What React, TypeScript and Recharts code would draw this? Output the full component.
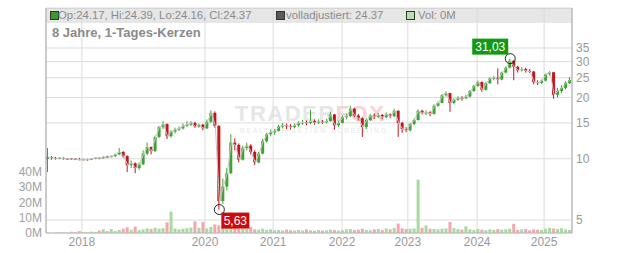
import React from 'react';
import { ComposedChart, Bar, Line, XAxis, YAxis, CartesianGrid, Cell, ReferenceDot } from 'recharts';

// one candle per column of the chart (O/H/L/C in EUR, volume in millions)
const opens = [
  10.0, 10.2, 10.1, 10.0, 10.1, 9.95, 10.05, 10.0, 9.95, 9.9, 9.95, 9.9, 10.0, 10.1, 10.05, 10.25, 10.2, 10.3, 10.5, 10.8,
  10.3, 9.3, 9.5, 9.0, 9.4, 10.6, 11.4, 10.9, 12.8, 14.3, 14.8, 12.9, 13.6, 13.9, 14.1, 14.5, 14.7, 15.0, 14.4, 14.7,
  14.1, 15.2, 16.8, 14.5, 6.2, 7.3, 8.5, 12.0, 11.7, 9.9, 11.3, 11.6, 10.8, 9.6, 10.6, 12.2, 13.2, 13.5, 13.7, 14.4,
  14.6, 14.5, 14.3, 14.6, 15.0, 15.1, 15.0, 15.3, 15.0, 15.2, 15.1, 15.3, 16.5, 14.6, 15.0, 16.0, 16.2, 17.6, 16.3, 15.8,
  14.3, 15.5, 16.3, 16.1, 16.4, 16.0, 16.5, 16.2, 17.2, 15.0, 14.0, 13.8, 14.8, 15.5, 17.2, 16.8, 16.9, 16.6, 18.2, 18.8,
  20.5, 21.0, 18.8, 19.5, 19.9, 19.8, 20.2, 21.5, 22.8, 23.8, 21.8, 23.5, 24.8, 25.0, 24.5, 26.5, 28.0, 30.3, 28.3, 27.2,
  27.6, 27.0, 26.8, 23.8, 23.6, 24.2, 26.0, 26.6, 20.6, 21.5, 22.3, 23.5,
];
const highs = [
  11.3, 10.3, 10.2, 10.2, 10.15, 10.1, 10.1, 10.05, 10.1, 10.0, 10.0, 10.05, 10.15, 10.15, 10.3, 10.35, 10.4, 10.6, 11.3, 10.9,
  10.4, 9.8, 9.6, 9.6, 11.0, 12.0, 11.5, 13.0, 14.5, 15.3, 14.9, 13.8, 14.2, 14.4, 14.9, 15.3, 15.3, 15.2, 14.9, 14.8,
  15.6, 17.3, 17.1, 14.6, 8.0, 9.0, 13.2, 12.6, 11.9, 11.6, 12.0, 11.8, 11.0, 10.8, 12.5, 13.4, 13.9, 14.0, 14.7, 15.0,
  14.9, 14.8, 14.9, 15.3, 15.5, 15.4, 17.4, 15.6, 15.6, 15.5, 15.7, 17.0, 16.6, 15.4, 16.3, 16.6, 18.2, 17.8, 16.6, 16.0,
  15.8, 16.6, 16.7, 16.8, 16.6, 16.9, 16.7, 17.6, 17.3, 15.2, 14.3, 15.0, 15.8, 17.5, 17.4, 17.3, 17.1, 18.5, 19.1, 20.8,
  21.4, 21.1, 19.8, 20.3, 20.3, 20.6, 21.8, 23.1, 24.2, 24.0, 23.8, 25.1, 25.5, 27.8, 26.8, 28.4, 31.03, 30.5, 28.6, 28.2,
  28.0, 27.6, 27.0, 24.3, 24.5, 26.2, 26.9, 26.7, 22.3, 23.0, 24.0, 25.2,
];
const lows = [
  8.6, 9.9, 9.9, 9.95, 9.9, 9.9, 9.9, 9.85, 9.85, 9.8, 9.8, 9.85, 9.95, 9.95, 10.0, 10.1, 10.15, 10.2, 10.4, 10.1,
  8.6, 9.0, 8.5, 8.8, 9.3, 10.4, 10.5, 10.8, 12.6, 14.0, 12.5, 12.7, 13.3, 13.7, 13.9, 14.3, 14.5, 14.2, 14.2, 13.8,
  14.0, 15.0, 14.2, 5.63, 6.0, 7.0, 8.4, 11.0, 9.6, 9.8, 11.0, 10.5, 9.3, 9.5, 10.5, 12.0, 12.9, 13.1, 13.6, 14.1,
  14.0, 13.9, 14.1, 14.4, 14.7, 14.6, 14.8, 14.7, 14.8, 14.8, 14.9, 15.2, 13.9, 14.3, 14.9, 15.6, 16.0, 16.0, 15.4, 12.8,
  14.0, 15.3, 15.7, 15.9, 15.6, 15.8, 15.8, 16.0, 12.8, 13.4, 13.5, 13.6, 14.6, 15.4, 16.5, 16.4, 16.2, 16.5, 18.0, 18.7,
  20.2, 17.0, 18.5, 19.3, 19.3, 19.6, 20.0, 21.3, 22.6, 21.3, 21.6, 23.3, 24.3, 23.2, 24.3, 26.3, 27.8, 24.3, 26.5, 26.8,
  26.5, 26.4, 23.2, 23.0, 23.3, 24.0, 25.6, 19.7, 20.0, 21.0, 21.9, 23.3,
];
const closes = [
  10.2, 10.1, 10.0, 10.1, 10.0, 10.0, 10.0, 9.95, 9.9, 9.95, 9.9, 10.0, 10.1, 10.05, 10.2, 10.2, 10.3, 10.5, 10.8, 10.3,
  9.3, 9.5, 9.0, 9.4, 10.6, 11.4, 10.9, 12.8, 14.3, 14.8, 12.9, 13.6, 13.9, 14.1, 14.5, 14.7, 15.0, 14.4, 14.7, 14.1,
  15.2, 16.8, 14.5, 6.2, 7.3, 8.5, 12.0, 11.7, 9.9, 11.3, 11.6, 10.8, 9.6, 10.6, 12.2, 13.2, 13.5, 13.7, 14.4, 14.6,
  14.5, 14.3, 14.6, 15.0, 15.1, 15.0, 15.3, 15.0, 15.2, 15.1, 15.3, 16.5, 14.6, 15.0, 16.0, 16.2, 17.6, 16.3, 15.8, 14.3,
  15.5, 16.3, 16.1, 16.4, 16.0, 16.5, 16.2, 17.2, 15.0, 14.0, 13.8, 14.8, 15.5, 17.2, 16.8, 16.9, 16.6, 18.2, 18.8, 20.5,
  21.0, 18.8, 19.5, 19.9, 19.8, 20.2, 21.5, 22.8, 23.8, 21.8, 23.5, 24.8, 25.0, 24.5, 26.5, 28.0, 30.3, 28.3, 27.2, 27.6,
  27.0, 26.8, 23.8, 23.6, 24.2, 26.0, 26.6, 20.6, 21.5, 22.3, 23.5, 24.37,
];
const volumes = [
  0.3, 0, 0.2, 0.5, 0.4, 0.3, 0.8, 0.5, 1.2, 0.6, 0.4, 0.9, 0.7, 1.6, 2.5, 1.2, 2.6, 1.4, 2.0, 2.8,
  3.8, 2.2, 4.2, 1.8, 2.4, 3.0, 2.6, 3.4, 2.8, 3.2, 7.0, 14.0, 3.0, 2.4, 2.8, 3.2, 3.6, 7.6, 3.4, 7.2,
  3.0, 4.0, 5.6, 5.0, 4.2, 3.6, 4.4, 3.2, 2.8, 3.0, 2.6, 4.0, 2.4, 2.2, 2.8, 2.0, 2.4, 1.8, 2.0, 1.6,
  2.2, 1.8, 1.6, 2.0, 1.6, 2.4, 1.8, 1.4, 2.0, 1.6, 1.8, 2.2, 2.0, 1.6, 1.8, 2.4, 2.6, 2.0, 2.2, 2.8,
  2.0, 1.8, 2.4, 2.6, 2.0, 3.0, 2.4, 3.2, 6.2, 3.0, 2.6, 2.8, 3.0, 35.0, 3.4, 5.0, 2.8, 2.6, 2.4, 2.8,
  3.0, 7.2, 3.2, 2.6, 2.2, 4.4, 2.4, 2.0, 2.6, 2.2, 1.8, 2.4, 2.0, 2.6, 2.2, 2.4, 2.8, 6.0, 2.0, 2.4,
  2.6, 1.8, 2.4, 2.2, 2.0, 2.8, 3.4, 3.0, 2.6, 3.2, 2.4, 2.0,
];

// candle index where each year starts
const yearTicks = [8.5, 39.4, 56.5, 73.8, 90.3, 107.7, 124.5];
const yearLabels = ['2018', '2020', '2021', '2022', '2023', '2024', '2025'];
const priceTicks = [5, 10, 15, 20, 25, 30, 35];
const volumeTicks = [0, 10, 20, 30, 40];

const highPoint = { i: 116, value: 31.03, label: '31,03' };
const lowPoint = { i: 43, value: 5.63, label: '5,63' };

const GREEN = '#3fa333';
const RED = '#c4161c';
const VOL_UP = '#a8daa0';
const VOL_DOWN = '#f2a6ad';
const FONT = '"Liberation Sans", Arial, sans-serif';

const data = closes.map((c, i) => ({
  i,
  o: opens[i],
  h: highs[i],
  l: lows[i],
  c,
  v: volumes[i],
}));

const Candle = (props: any) => {
  const { x, y, width, height, payload } = props;
  if (x == null || y == null || !payload) return null;
  const { o, h, l, c } = payload;
  const top = Math.min(y, y + height);
  const full = Math.abs(height);
  const span = Math.log(h) - Math.log(l) || 1;
  const py = (v: number) => top + (full * (Math.log(h) - Math.log(v))) / span;
  const color = c >= o ? GREEN : RED;
  const bTop = py(Math.max(o, c));
  const bBot = py(Math.min(o, c));
  const cx = x + width / 2;
  return (
    <g>
      <line x1={cx} x2={cx} y1={top} y2={top + full} stroke={color} strokeWidth={1} />
      <rect x={x} y={bTop} width={width} height={Math.max(1, bBot - bTop)} fill={color} />
    </g>
  );
};

const HighMarker = (props: any) => {
  const { cx, cy } = props;
  return (
    <g>
      <circle cx={cx} cy={cy} r={5} fill="none" stroke="#222" strokeWidth={1} />
      <rect x={cx - 38} y={cy - 20} width={36} height={16} fill="#119a11" />
      <text x={cx - 20} y={cy - 8} textAnchor="middle" fill="#fff" fontSize={12} fontFamily={FONT}>
        {highPoint.label}
      </text>
    </g>
  );
};

const LowMarker = (props: any) => {
  const { cx, cy } = props;
  return (
    <g>
      <circle cx={cx} cy={cy} r={5} fill="none" stroke="#222" strokeWidth={1} />
      <rect x={cx + 2} y={cy + 3} width={28} height={16} fill="#cc0a0a" />
      <text x={cx + 16} y={cy + 15} textAnchor="middle" fill="#fff" fontSize={12} fontFamily={FONT}>
        {lowPoint.label}
      </text>
    </g>
  );
};

const legendText: React.CSSProperties = {
  position: 'absolute',
  top: 9,
  fontSize: 11.3,
  color: '#8a8a8a',
  lineHeight: '13px',
  whiteSpace: 'nowrap',
};

const square = (left: number, fill: string): React.CSSProperties => ({
  position: 'absolute',
  left,
  top: 11,
  width: 7,
  height: 7,
  background: fill,
  border: '1px solid #333',
});

export default function App() {
  return (
    <div style={{ position: 'absolute', left: 0, top: 0, width: 632, height: 253, background: '#fff', fontFamily: FONT }}>
      {/* header band behind the grid */}
      <div style={{ position: 'absolute', left: 46, top: 8, width: 526, height: 14, background: '#e6e6e6', borderTop: '1px solid #cfcfcf' }} />
      {/* watermark */}
      <div style={{ position: 'absolute', left: 235, top: 104, fontSize: 22, lineHeight: '20px', fontWeight: 'bold', letterSpacing: 1.5, color: '#e6e6e6', whiteSpace: 'nowrap' }}>
        TRADER<span style={{ color: '#f7d3d6' }}>FOX</span>
      </div>
      <div style={{ position: 'absolute', left: 240, top: 127, fontSize: 6.5, lineHeight: '7px', letterSpacing: 2, color: '#e6e6e6', whiteSpace: 'nowrap' }}>
        REALTIME AKTIEN-SCREENING
      </div>

      <div style={{ position: 'absolute', left: 0, top: 0 }}>
        <ComposedChart width={632} height={253} data={data} margin={{ top: 8, right: 0, bottom: 0, left: 0 }}>
          <CartesianGrid xAxisId="px" yAxisId="p" stroke="#dcdcdc" verticalFill={[]} horizontalFill={[]} />
          <XAxis
            xAxisId="px"
            dataKey="i"
            type="number"
            domain={[-0.5, 131.5]}
            ticks={yearTicks}
            interval={0}
            tickFormatter={(v: number) => yearLabels[yearTicks.indexOf(v)]}
            height={20}
            tickLine={false}
            tickSize={0}
            tickMargin={4}
            stroke="#bbb"
            tick={{ fill: '#999', fontSize: 12, fontFamily: FONT }}
            allowDataOverflow
          />
          <XAxis xAxisId="vx" dataKey="i" type="number" domain={[-0.5, 131.5]} hide allowDataOverflow />
          <YAxis
            yAxisId="p"
            orientation="right"
            scale="log"
            domain={[4.32, 55]}
            allowDataOverflow
            ticks={priceTicks}
            interval={0}
            width={60}
            tickLine={false}
            tickSize={0}
            tickMargin={4}
            stroke="#aaa"
            tick={{ fill: '#999', fontSize: 12, fontFamily: FONT }}
          />
          <YAxis
            yAxisId="v"
            orientation="left"
            domain={[0, 147.5]}
            allowDataOverflow
            ticks={volumeTicks}
            interval={0}
            tickFormatter={(v: number) => `${v}M`}
            width={46}
            tickLine={false}
            tickSize={0}
            tickMargin={4}
            stroke="#aaa"
            tick={{ fill: '#a0a0a0', fontSize: 12, fontFamily: FONT }}
          />
          <Bar xAxisId="vx" yAxisId="v" dataKey="v" barSize={3} isAnimationActive={false}>
            {data.map((d) => (
              <Cell key={d.i} fill={d.c >= d.o ? VOL_UP : VOL_DOWN} />
            ))}
          </Bar>
          <Line
            xAxisId="px"
            yAxisId="p"
            dataKey="c"
            stroke="#c8c8c8"
            strokeWidth={1}
            dot={false}
            isAnimationActive={false}
          />
          <Bar
            xAxisId="px"
            yAxisId="p"
            dataKey={(d: any) => [d.l, d.h]}
            barSize={3}
            shape={<Candle />}
            isAnimationActive={false}
          />
          <ReferenceDot xAxisId="px" yAxisId="p" x={highPoint.i} y={highPoint.value} shape={<HighMarker />} />
          <ReferenceDot xAxisId="px" yAxisId="p" x={lowPoint.i} y={lowPoint.value} shape={<LowMarker />} />
        </ComposedChart>
      </div>

      {/* header legend and title */}
      <div style={square(50, '#3a9a2a')} />
      <div style={{ ...legendText, left: 58 }}>Op:24.17, Hi:24.39, Lo:24.16, Cl:24.37</div>
      <div style={square(276, '#5a5a5a')} />
      <div style={{ ...legendText, left: 286 }}>volladjustiert: 24.37</div>
      <div style={square(406, '#b6e0ae')} />
      <div style={{ ...legendText, left: 418 }}>Vol: 0M</div>
      <div style={{ position: 'absolute', left: 52, top: 25, fontSize: 13, fontWeight: 'bold', color: '#8a8a8a', whiteSpace: 'nowrap' }}>
        8 Jahre, 1-Tages-Kerzen
      </div>
    </div>
  );
}
